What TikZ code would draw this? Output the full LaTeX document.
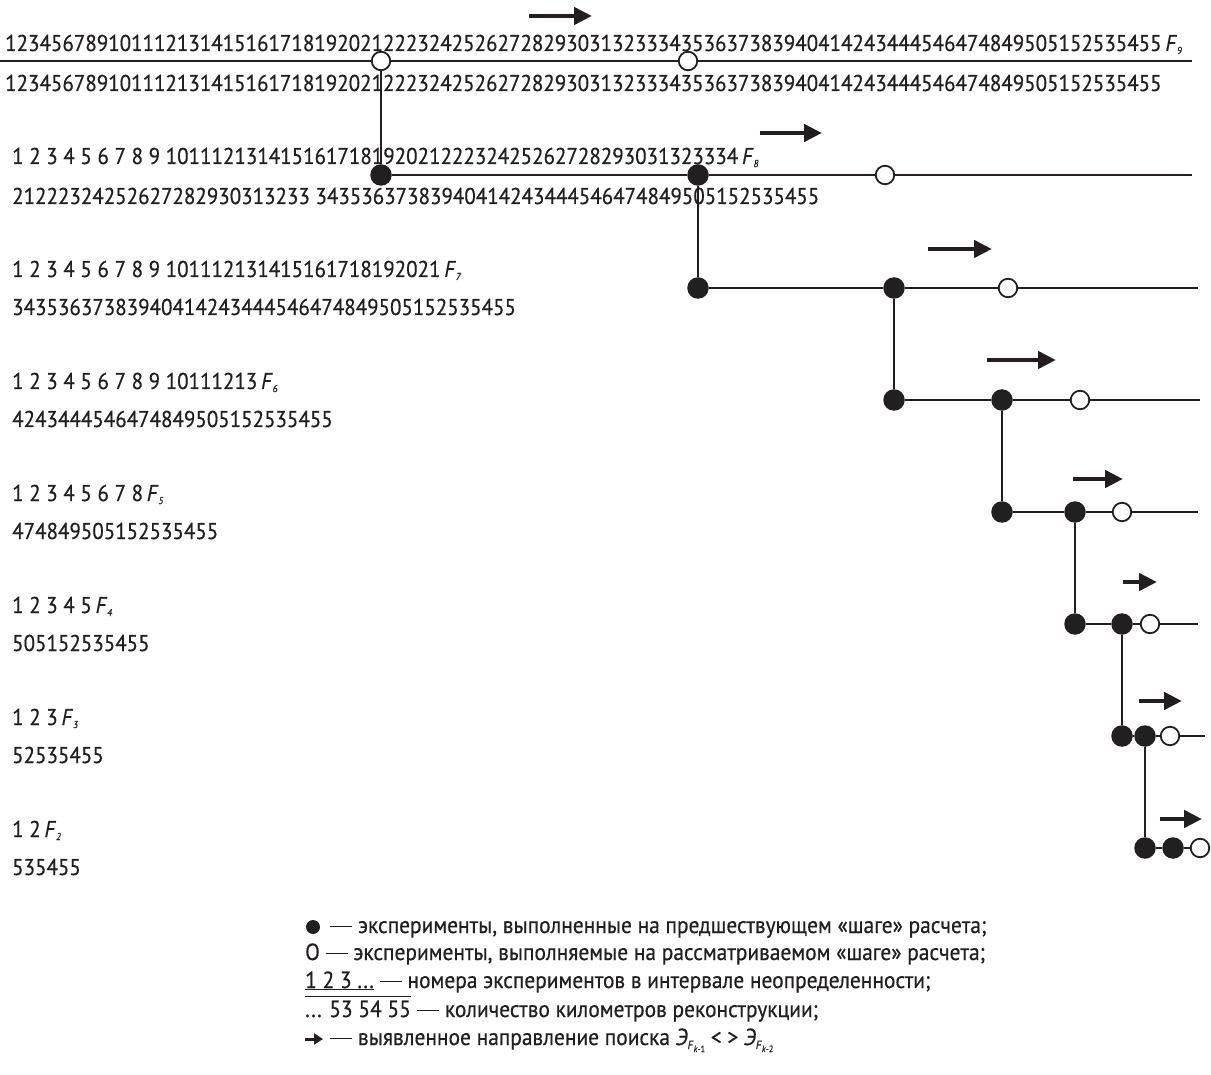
\documentclass[tikz,border=0pt]{standalone}
\usepackage{fontspec}
\setmainfont[FakeStretch=0.92,FakeBold=0.5]{PT Sans}
\usepackage{graphicx}
\usetikzlibrary{arrows.meta}
\definecolor{ink}{RGB}{35,31,32}
\newlength\dgw
\AtBeginDocument{%
  \settowidth\dgw{\fontsize{100pt}{100pt}\selectfont 0}%
  \pgfmathsetmacro\msz{100*11.45/\dgw}%
  \pgfmathsetmacro\lsz{1.02*\msz}%
}
\newcommand\mfnt{\fontsize{\msz pt}{\msz pt}\selectfont}
\newcommand\lfnt{\fontsize{\lsz pt}{\lsz pt}\selectfont}
\newcommand\dsh{\rule[0.26em]{0.95em}{0.06em}}
\newcommand\Fsub[1]{\,\textit{F}\raisebox{-3pt}{\fontsize{10pt}{10pt}\selectfont\textit{#1}}}
\newcommand\Fk[1]{\raisebox{-4pt}{\fontsize{12pt}{12pt}\selectfont\textit{F}\raisebox{-3pt}{\fontsize{9pt}{9pt}\selectfont\textit{k}-#1}}}
\tikzset{
  conn/.style={draw=ink, line width=1.8pt},
  fdot/.style={circle, fill=ink, inner sep=0pt, minimum size=21.5pt},
  odot/.style={circle, draw=ink, fill=white, line width=1.8pt, inner sep=0pt, minimum size=18.5pt},
  dirarr/.style={draw=ink, line width=4.5pt, -{Triangle[length=18pt,width=17pt]}},
  num/.style={anchor=base west, inner sep=0pt, text=ink, font=\mfnt},
  leg/.style={anchor=base west, inner sep=0pt, text=ink, font=\lfnt},
}
\begin{document}
\begin{tikzpicture}[x=1pt,y=-1pt]
\useasboundingbox[fill=white] (0,0) rectangle (1211,1075);

% ---------- direction arrows ----------
\draw[dirarr] (529,16) -- (592,16);
\draw[dirarr] (760,133) -- (822,133);
\draw[dirarr] (928,249) -- (992,249);
\draw[dirarr] (987,360) -- (1056,360);
\draw[dirarr] (1073,479) -- (1123,479);
\draw[dirarr] (1123,582) -- (1157,582);
\draw[dirarr] (1139,701) -- (1182,701);
\draw[dirarr] (1160,819) -- (1202,819);

% ---------- number rows ----------
\node[num] (t9u) at (5,51) {12345678910111213141516171819202122232425262728293031323334353637383940414243444546474849505152535455\Fsub{9}};
\node[num] (t9l) at (5,91) {12345678910111213141516171819202122232425262728293031323334353637383940414243444546474849505152535455};
\node[num] (t8u) at (12,164) {1 2 3 4 5 6 7 8 9 10111213141516171819202122232425262728293031323334\Fsub{8}};
\node[num] (t8l) at (12,204) {21222324252627282930313233 34353637383940414243444546474849505152535455};
\node[num] (t7u) at (12,277) {1 2 3 4 5 6 7 8 9 101112131415161718192021\Fsub{7}};
\node[num] (t7l) at (12,315) {34353637383940414243444546474849505152535455};
\node[num] (t6u) at (12,389) {1 2 3 4 5 6 7 8 9 10111213\Fsub{6}};
\node[num] (t6l) at (12,427) {4243444546474849505152535455};
\node[num] (t5u) at (12,501) {1 2 3 4 5 6 7 8\Fsub{5}};
\node[num] (t5l) at (12,539) {474849505152535455};
\node[num] (t4u) at (12,613) {1 2 3 4 5\Fsub{4}};
\node[num] (t4l) at (12,651) {505152535455};
\node[num] (t3u) at (12,725) {1 2 3\Fsub{3}};
\node[num] (t3l) at (12,763) {52535455};
\node[num] (t2u) at (12,837) {1 2\Fsub{2}};
\node[num] (t2l) at (12,875) {535455};

% ---------- F9 ----------
\coordinate (l9s) at (0,61);
\coordinate (l9e) at (1192,61);
\node[odot] (o91) at (381,61) {};
\node[odot] (o92) at (688,61) {};
\draw[conn] (l9s) -- (o91) -- (o92) -- (l9e);
% ---------- F8 ----------
\node[fdot] (f81) at (381,175) {};
\node[fdot] (f82) at (698,175) {};
\node[odot] (o81) at (885,175) {};
\coordinate (l8e) at (1192,175);
\draw[conn] (f81) -- (f82) -- (o81) -- (l8e);
\draw[conn] (o91) -- (f81);
% ---------- F7 ----------
\node[fdot] (f71) at (698,288) {};
\node[fdot] (f72) at (894,288) {};
\node[odot] (o71) at (1008,288) {};
\coordinate (l7e) at (1198,288);
\draw[conn] (f71) -- (f72) -- (o71) -- (l7e);
\draw[conn] (f82) -- (f71);
% ---------- F6 ----------
\node[fdot] (f61) at (894,400) {};
\node[fdot] (f62) at (1002,400) {};
\node[odot] (o61) at (1080,400) {};
\coordinate (l6e) at (1200,400);
\draw[conn] (f61) -- (f62) -- (o61) -- (l6e);
\draw[conn] (f72) -- (f61);
% ---------- F5 ----------
\node[fdot] (f51) at (1002,512) {};
\node[fdot] (f52) at (1075,512) {};
\node[odot] (o51) at (1122,512) {};
\coordinate (l5e) at (1198,512);
\draw[conn] (f51) -- (f52) -- (o51) -- (l5e);
\draw[conn] (f62) -- (f51);
% ---------- F4 ----------
\node[fdot] (f41) at (1075,624) {};
\node[fdot] (f42) at (1122,624) {};
\node[odot] (o41) at (1150,624) {};
\coordinate (l4e) at (1198,624);
\draw[conn] (f41) -- (f42) -- (o41) -- (l4e);
\draw[conn] (f52) -- (f41);
% ---------- F3 ----------
\node[fdot] (f31) at (1122,736) {};
\node[fdot] (f32) at (1145,736) {};
\node[odot] (o31) at (1170,736) {};
\coordinate (l3e) at (1205,736);
\draw[conn] (f31) -- (f32) -- (o31) -- (l3e);
\draw[conn] (f42) -- (f31);
% ---------- F2 ----------
\node[fdot] (f21) at (1145,848) {};
\node[fdot] (f22) at (1173,848) {};
\node[odot] (o21) at (1200,848) {};
\draw[conn] (f21) -- (f22) -- (o21);
\draw[conn] (f32) -- (f21);

% ---------- legend ----------
\node[circle, fill=ink, inner sep=0pt, minimum size=14pt] (ld) at (313,927) {};
\node[leg] (lt1) at (330,933) {\dsh\ эксперименты, выполненные на предшествующем «шаге» расчета;};
\node[leg] (lt2) at (305,960) {O \dsh\ эксперименты, выполняемые на рассматриваемом «шаге» расчета;};
\node[leg] (lt3) at (305,988) {\underline{1 2 3 ...} \dsh\ номера экспериментов в интервале неопределенности;};
\node[leg] (lt4a) at (305,1017) {... 53 54 55};
\node[leg, anchor=base west] (lt4b) at (lt4a.base east) {\ \dsh\ количество километров реконструкции;};
\draw[draw=ink, line width=1pt] ([yshift=4pt]lt4a.north west) -- ([yshift=4pt]lt4a.north east);
\coordinate (la1) at (305,1039);
\coordinate (la2) at (323,1039);
\draw[draw=ink, line width=3pt, -{Triangle[length=9pt,width=11pt]}] (la1) -- (la2);
\node[leg] (lt5) at (330,1045) {\dsh\ выявленное направление поиска \textit{Э}\Fk{1} < > \textit{Э}\Fk{2}};
\end{tikzpicture}
\end{document}
